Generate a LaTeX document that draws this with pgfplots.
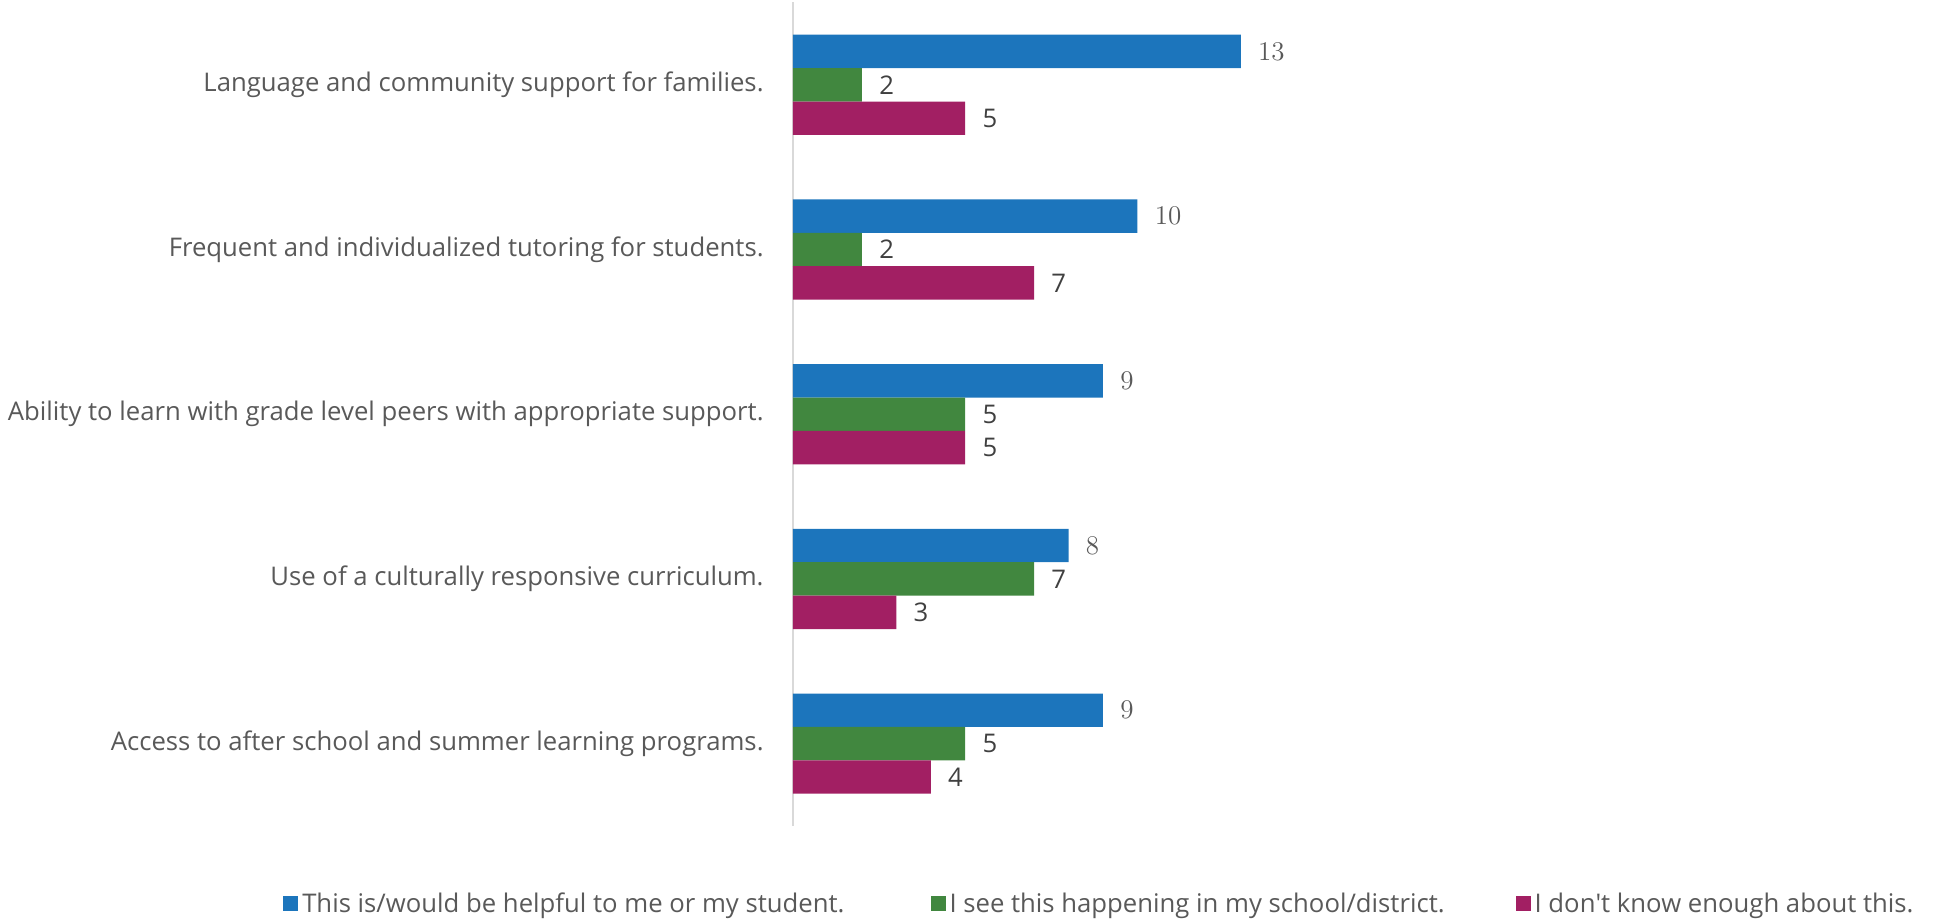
\documentclass[border=0pt]{standalone}
\usepackage{fontspec}
\setsansfont{Open Sans}
\usepackage{pgfplots}
\pgfplotsset{compat=1.18}
\definecolor{cblue}{HTML}{1C75BC}
\definecolor{cgreen}{HTML}{41873F}
\definecolor{cmaroon}{HTML}{A21F63}
\definecolor{txt}{HTML}{595959}
\definecolor{num}{HTML}{404040}
\definecolor{axgray}{HTML}{D9D9D9}
\newcommand{\lblfont}{\sffamily\fontsize{12.85}{15}\selectfont}

\begin{document}
\begin{tikzpicture}
\useasboundingbox (0,0) rectangle (969.5pt,459.5pt);
\begin{axis}[
    at={(396.5pt,46.5pt)}, anchor=south west,
    scale only axis, width=568.3pt, height=411.75pt,
    xbar, bar width=16.7pt,
    xmin=0, xmax=33, ymin=-0.5, ymax=4.5,
    axis lines*=left,
    x axis line style={draw=none},
    y axis line style={draw=axgray, line width=1pt},
    xtick=\empty,
    ytick={0,1,2,3,4},
    yticklabels={
        Access to after school and summer learning programs.,
        Use of a culturally responsive curriculum.,
        Ability to learn with grade level peers with appropriate support.,
        Frequent and individualized tutoring for students.,
        Language and community support for families.},
    major tick length=0pt,
    yticklabel style={font=\lblfont, text=txt, inner sep=0pt},
    yticklabel shift=14.5pt,
    nodes near coords={\pgfmathprintnumber[assume math mode=true]{\pgfplotspointmeta}},
    every node near coord/.append style={anchor=west, inner sep=0pt, xshift=8.5pt,
        font=\lblfont, text=num},
    legend columns=3,
    legend image code/.code={\fill[#1] (0pt,-3.75pt) rectangle (7.5pt,3.75pt);},
    legend style={draw=none, fill=none, at={(-0.4488,-0.0947)}, anchor=west,
        inner sep=0pt, font=\lblfont, text=txt, nodes={inner sep=0pt},
        /tikz/every odd column/.style={column sep=2pt},
        /tikz/column 2/.style={column sep=43pt},
        /tikz/column 4/.style={column sep=35.5pt}},
]
\addplot[fill=cblue, draw=none, bar shift=16.7pt,
    every node near coord/.append style={font=\rmfamily\fontsize{13.5}{15}\selectfont, text=txt}]
    coordinates {(13,4) (10,3) (9,2) (8,1) (9,0)};
\addplot[fill=cgreen, draw=none, bar shift=0pt]
    coordinates {(2,4) (2,3) (5,2) (7,1) (5,0)};
\addplot[fill=cmaroon, draw=none, bar shift=-16.7pt]
    coordinates {(5,4) (7,3) (5,2) (3,1) (4,0)};
\legend{This is/would be helpful to me or my student.,
    I see this happening in my school/district.,
    I don\textquotesingle t know enough about this.}
\end{axis}
\end{tikzpicture}
\end{document}
